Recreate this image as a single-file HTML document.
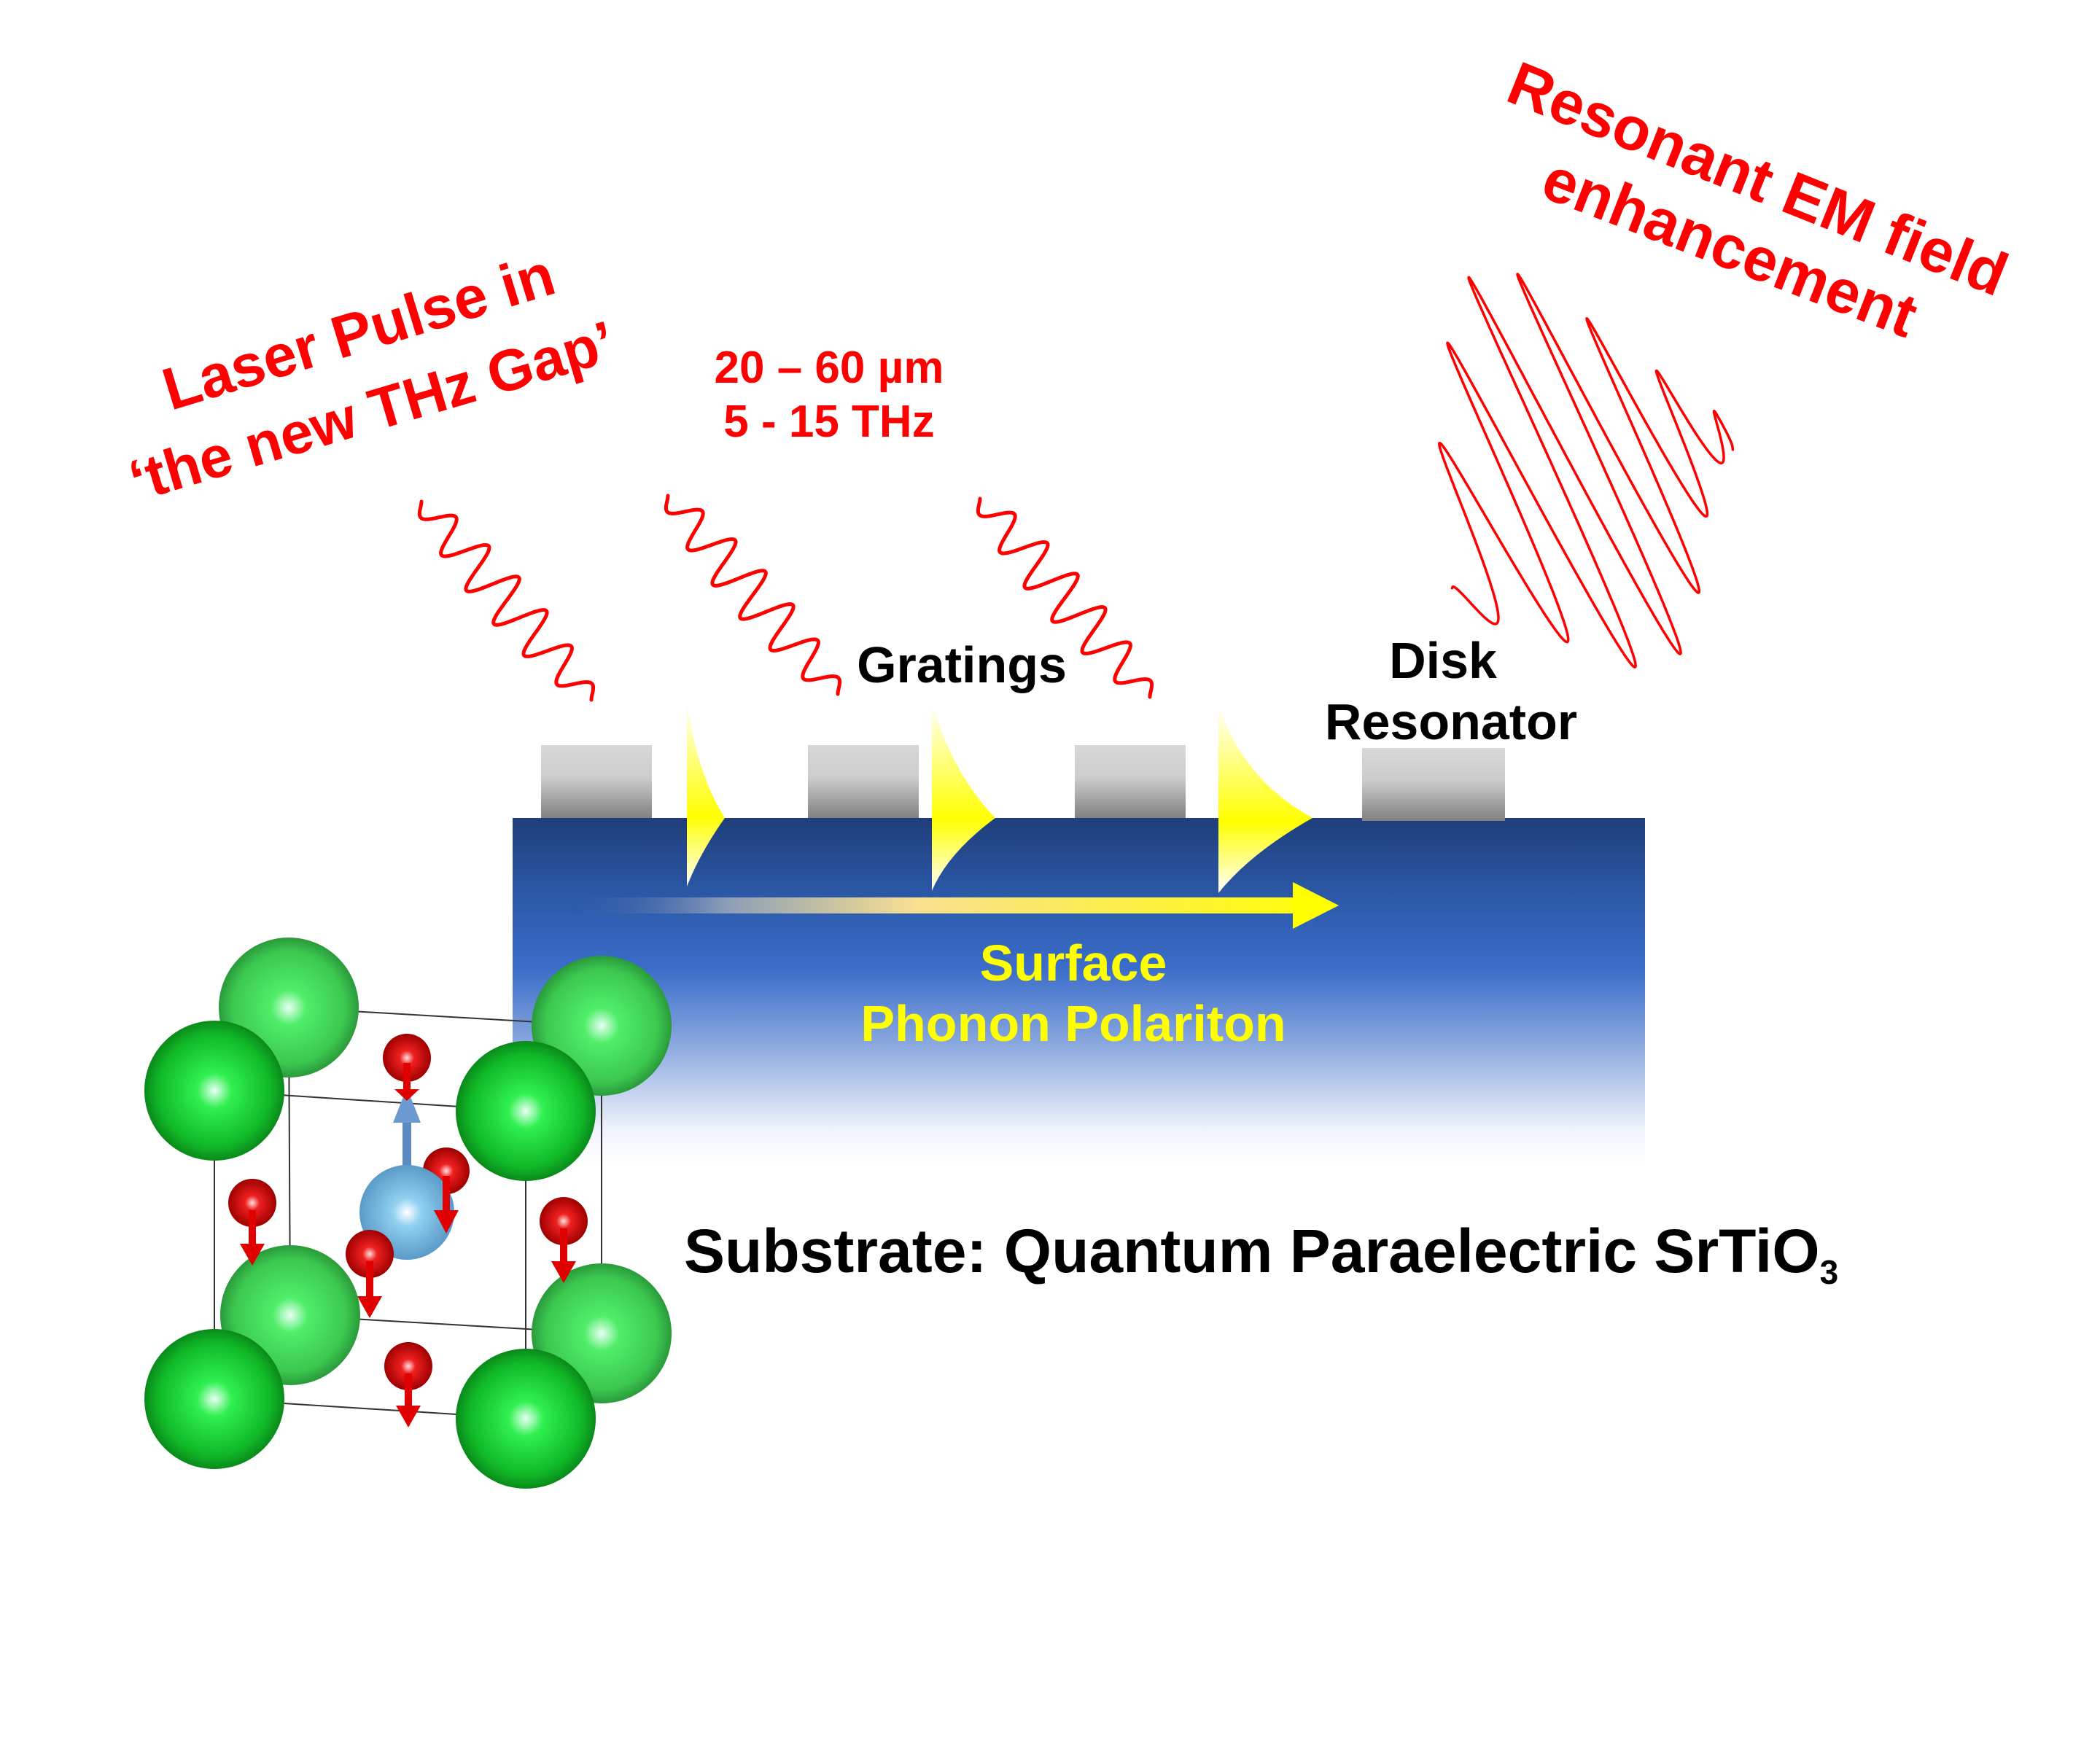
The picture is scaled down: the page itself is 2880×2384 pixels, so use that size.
<!DOCTYPE html>
<html><head><meta charset="utf-8"><style>
html,body{margin:0;padding:0;background:#fff;}
svg{display:block;}
text{font-family:"Liberation Sans",Arial,sans-serif;font-weight:bold;}
</style></head><body>
<svg id="s" width="2880" height="2384" viewBox="0 0 2880 2384" xmlns="http://www.w3.org/2000/svg">
<defs>
<linearGradient id="sub" x1="0" y1="1122" x2="0" y2="1600" gradientUnits="userSpaceOnUse">
<stop offset="0" stop-color="#1f3e7a"/><stop offset="0.2" stop-color="#2a56a3"/><stop offset="0.43" stop-color="#3a6cc9"/><stop offset="0.66" stop-color="#8eabe0"/><stop offset="0.9" stop-color="#f2f5fc"/><stop offset="1" stop-color="#ffffff"/>
</linearGradient>
<linearGradient id="blk" x1="0" y1="0" x2="0" y2="1">
<stop offset="0" stop-color="#d8d8d8"/><stop offset="0.45" stop-color="#cccccc"/><stop offset="1" stop-color="#808080"/>
</linearGradient>
<linearGradient id="yel" x1="0" y1="0" x2="0" y2="1">
<stop offset="0" stop-color="#ffffff"/><stop offset="0.62" stop-color="#ffff00"/><stop offset="1" stop-color="#ffffff"/>
</linearGradient>
<linearGradient id="arr" x1="780" y1="0" x2="1840" y2="0" gradientUnits="userSpaceOnUse">
<stop offset="0" stop-color="#2a56a3" stop-opacity="0"/><stop offset="0.2" stop-color="#8a9cb8"/><stop offset="0.45" stop-color="#f8e090"/><stop offset="1" stop-color="#ffff00"/>
</linearGradient>
<radialGradient id="gD" cx="0.5" cy="0.5" r="0.5"><stop offset="0" stop-color="#e8fff4"/><stop offset="0.25" stop-color="#30f050"/><stop offset="0.8" stop-color="#10b828"/><stop offset="1" stop-color="#0a8a1a"/></radialGradient>
<radialGradient id="gL" cx="0.5" cy="0.5" r="0.5"><stop offset="0" stop-color="#e8fff4"/><stop offset="0.25" stop-color="#50ee6a"/><stop offset="0.8" stop-color="#3cc850"/><stop offset="1" stop-color="#2a9a3a"/></radialGradient>
<radialGradient id="rO" cx="0.5" cy="0.5" r="0.5"><stop offset="0" stop-color="#ffe0e0"/><stop offset="0.3" stop-color="#ee2020"/><stop offset="1" stop-color="#a00000"/></radialGradient>
<radialGradient id="bT" cx="0.5" cy="0.5" r="0.5"><stop offset="0" stop-color="#ffffff"/><stop offset="0.3" stop-color="#90d0f0"/><stop offset="1" stop-color="#5a9ac8"/></radialGradient>
</defs>

<rect x="703" y="1122" width="1553" height="480" fill="url(#sub)"/>
<rect x="742" y="1022" width="152" height="100" fill="url(#blk)"/>
<rect x="1108" y="1022" width="152" height="100" fill="url(#blk)"/>
<rect x="1474" y="1022" width="152" height="100" fill="url(#blk)"/>
<rect x="1868" y="1026" width="196" height="100" fill="url(#blk)"/>
<path d="M942 960 Q955 1060 994 1122 Q960 1170 942 1216 Z" fill="url(#yel)"/>
<path d="M1278 962 Q1305 1060 1365 1122 Q1300 1170 1278 1222 Z" fill="url(#yel)"/>
<path d="M1671 966 Q1705 1070 1800 1122 Q1715 1170 1671 1225 Z" fill="url(#yel)"/>
<rect x="780" y="1231" width="996" height="22" fill="url(#arr)"/>
<polygon points="1773,1210 1836,1242 1773,1274" fill="#ffff00"/>

<text x="1472" y="1345" font-size="70" fill="#ffff00" text-anchor="middle">Surface</text>
<text x="1472" y="1428" font-size="70" fill="#ffff00" text-anchor="middle">Phonon Polariton</text>

<text x="1319" y="936" font-size="70" fill="#000" text-anchor="middle">Gratings</text>
<text x="1979" y="930" font-size="70" fill="#000" text-anchor="middle">Disk</text>
<text x="1990" y="1014" font-size="70" fill="#000" text-anchor="middle">Resonator</text>

<text x="1137" y="525" font-size="62" fill="#ff0000" text-anchor="middle">20 – 60 µm</text>
<text x="1137" y="599" font-size="62" fill="#ff0000" text-anchor="middle">5 - 15 THz</text>

<text transform="translate(500,482) rotate(-17)" font-size="82" fill="#ff0000" text-anchor="middle">Laser Pulse in</text>
<text transform="translate(518,590) rotate(-16.5)" font-size="80" fill="#ff0000" text-anchor="middle">‘the new THz Gap’</text>
<text transform="translate(2400,272) rotate(21.8)" font-size="84" fill="#ff0000" text-anchor="middle">Resonant EM field</text>
<text transform="translate(2362,366) rotate(21.2)" font-size="84" fill="#ff0000" text-anchor="middle">enhancement</text>

<text x="938" y="1745" font-size="84" fill="#000">Substrate: Quantum Paraelectric SrTiO<tspan font-size="46" dy="16">3</tspan></text>

<g id="waves" fill="none" stroke="#ff0000" stroke-linejoin="round" stroke-linecap="round"></g>

<g stroke="#333" stroke-width="2" fill="none">
<polygon points="396,1382 825,1407 825,1829 398,1804"/>
<polygon points="294,1496 721,1524 721,1946 294,1919"/>
<line x1="396" y1="1382" x2="294" y2="1496"/><line x1="825" y1="1407" x2="721" y2="1524"/>
<line x1="825" y1="1829" x2="721" y2="1946"/><line x1="398" y1="1804" x2="294" y2="1919"/>
</g>
<circle cx="396" cy="1382" r="96" fill="url(#gL)"/>
<circle cx="825" cy="1407" r="96" fill="url(#gL)"/>
<circle cx="398" cy="1804" r="96" fill="url(#gL)"/>
<circle cx="825" cy="1829" r="96" fill="url(#gL)"/>
<circle cx="612" cy="1606" r="32" fill="url(#rO)"/>
<circle cx="558" cy="1451" r="33" fill="url(#rO)"/>
<rect x="552" y="1520" width="12" height="80" fill="#5a8ac0"/>
<polygon points="539,1540 558,1492 577,1540" fill="#6a9ad0"/>
<circle cx="558" cy="1663" r="65" fill="url(#bT)"/>
<circle cx="346" cy="1650" r="33" fill="url(#rO)"/>
<circle cx="507" cy="1720" r="33" fill="url(#rO)"/>
<circle cx="773" cy="1675" r="33" fill="url(#rO)"/>
<circle cx="560" cy="1874" r="33" fill="url(#rO)"/>
<g fill="#e00000">
<rect x="553" y="1458" width="10" height="40"/><polygon points="541,1494 575,1494 558,1510"/>
<rect x="607" y="1613" width="10" height="50"/><polygon points="595,1660 629,1660 612,1692"/>
<rect x="341" y="1660" width="10" height="50"/><polygon points="329,1706 363,1706 346,1736"/>
<rect x="502" y="1730" width="10" height="52"/><polygon points="490,1778 524,1778 507,1808"/>
<rect x="768" y="1685" width="10" height="50"/><polygon points="756,1730 790,1730 773,1760"/>
<rect x="555" y="1884" width="10" height="50"/><polygon points="543,1928 577,1928 560,1958"/>
</g>
<circle cx="294" cy="1496" r="96" fill="url(#gD)"/>
<circle cx="721" cy="1524" r="96" fill="url(#gD)"/>
<circle cx="294" cy="1919" r="96" fill="url(#gD)"/>
<circle cx="721" cy="1946" r="96" fill="url(#gD)"/>
</svg>
<script>
(function(){
var g=document.getElementById('waves');
function add(d,w){var p=document.createElementNS('http://www.w3.org/2000/svg','path');p.setAttribute('d',d);p.setAttribute('stroke-width',w);g.appendChild(p);}
function small(sx,sy){
 var ex=sx+233,ey=sy+272,d='',N=300;
 for(var i=0;i<=N;i++){var t=i/N;var env=Math.pow(Math.sin(Math.PI*t),0.6)*0.8+0.2;
  var s=34*env*Math.sin(2*Math.PI*6*t+Math.PI);
  var x=sx+t*(ex-sx)+s*0.79,y=sy+t*(ey-sy)-s*0.61;
  d+=(i?'L':'M')+x.toFixed(1)+' '+y.toFixed(1);}
 add(d,5);
}
small(578,688);small(916,680);small(1344,684);
var d='',N=2000;
var dx=0.443,dy=0.896,nx=0.896,ny=-0.443,cyc=7;
for(var i=0;i<=N;i++){var t=i/N;var env=300*Math.exp(-Math.pow((t-0.42)/0.36,2));
 var w=2*Math.PI*cyc*t;
 var s=env*Math.sin(w);
 var c=-4*Math.cos(w);
 var ax=1995+385*t, ay=805-190*t-85*Math.pow(Math.sin(Math.PI*t),0.5);
 var x=ax+s*dx+c*nx,y=ay+s*dy+c*ny;
 d+=(i?'L':'M')+x.toFixed(1)+' '+y.toFixed(1);}
add(d,3.5);
})();
</script>
</body></html>
